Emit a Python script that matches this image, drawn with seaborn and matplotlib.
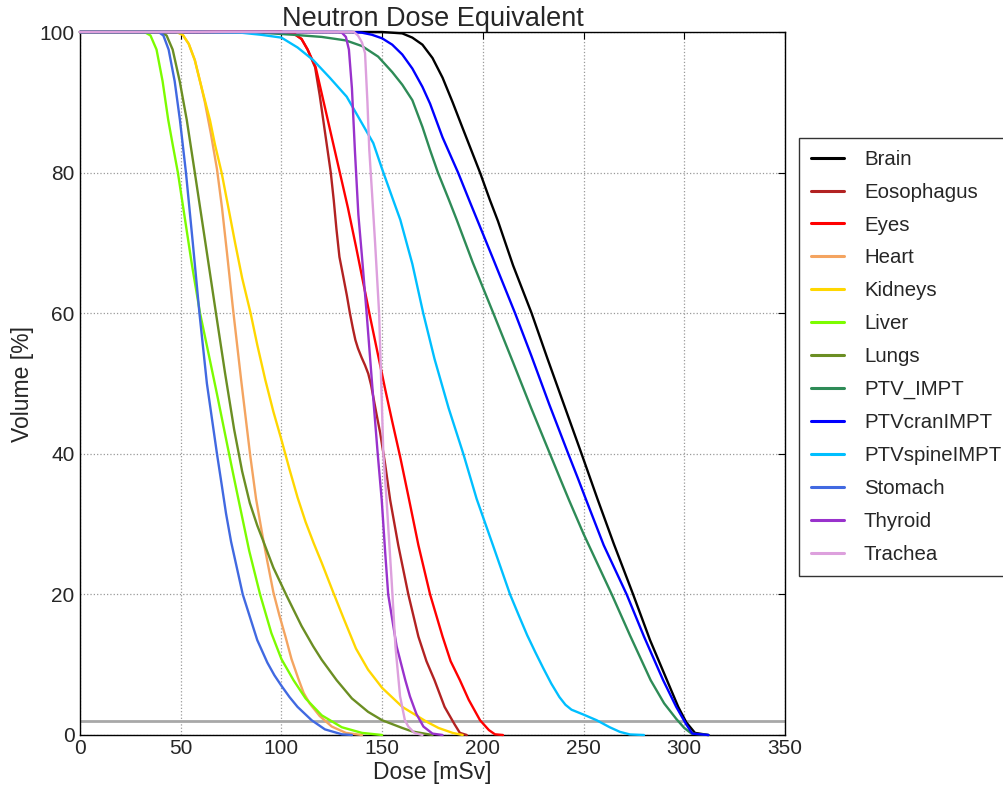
import numpy as np
import pandas as pd
import matplotlib
matplotlib.use("Agg")
import matplotlib.pyplot as plt
import seaborn as sns

# ---------------- data ----------------
structures = ["Brain", "Eosophagus", "Eyes", "Heart", "Kidneys", "Liver", "Lungs",
              "PTV_IMPT", "PTVcranIMPT", "PTVspineIMPT", "Stomach", "Thyroid", "Trachea"]

colors = ["black", "firebrick", "red", "sandybrown", "gold", "lawngreen", "olivedrab",
          "seagreen", "blue", "deepskyblue", "royalblue", "darkorchid", "plum"]

brain_x = [0, 150, 160, 165, 170, 175, 180, 185, 190, 198.6, 203.5, 207.5, 215, 224.2, 232, 240, 249,
           257, 265, 274.6, 283, 291.4, 297, 301, 305.3, 312]
brain_y = [100, 100, 99.8, 99.2, 98.2, 96.3, 93.5, 90, 86.3, 80, 76.1, 73.1, 66.8, 60, 53.6, 47.2, 40,
           33.5, 27.2, 20, 13.5, 7.8, 4, 1.8, 0.3, 0]

eso_x = [0, 100, 106, 110, 113, 116.7, 119, 121, 123, 124.5, 126, 127.3, 128.8, 130.5, 132.5, 134,
         135.5, 136.7, 138, 139.8, 141.5, 143.1, 144.5, 145.6, 147.3, 149, 151.5, 154, 158, 163,
         168, 172, 176, 181, 186, 188.6, 192]
eso_y = [100, 100, 99.8, 99, 97.5, 95, 91, 87, 83, 80, 76, 72, 68, 65.5, 62.5, 60,
         57.8, 56.2, 55, 53.7, 52.6, 51.4, 49.8, 48.1, 45.5, 43, 38.5, 33.4, 27, 20,
         14, 10.5, 7.8, 4, 1.5, 0.3, 0]

eyes_x = [0, 100, 106, 110, 113, 117, 121, 125, 129, 133, 137, 140.5, 144, 148, 151.5, 155, 159,
          163, 168, 173.8, 180, 184, 188.6, 193, 198.6, 203, 206, 210]
eyes_y = [100, 100, 99.8, 99, 97.5, 95, 90, 85, 80, 75, 69.5, 64.5, 59.5, 54, 49.2, 44.6, 39.5,
          34, 27, 20, 14, 10.5, 7.8, 5, 2.1, 0.7, 0.1, 0]

heart_x = [0, 48, 51, 54, 57, 60, 62, 65, 68, 70.5, 73, 76, 80, 84.4, 87.4, 90.7, 93, 96, 99, 102,
           105, 108.4, 111, 114, 119, 125, 132, 140]
heart_y = [100, 100, 99.6, 98.3, 96, 92.5, 90, 85.5, 80.5, 75, 68.5, 60.5, 50.5, 40, 33.6, 28.2, 24.7,
           20.3, 17, 14, 10.8, 8, 6, 4.5, 2.7, 1.2, 0.3, 0]

kidney_x = [0, 48, 51, 54, 57, 60, 64.5, 67, 70.3, 74, 77, 80.5, 84.7, 88, 92, 96, 100, 104, 108,
            112, 116, 120, 125.7, 131, 137, 143, 150, 160, 172, 178, 185, 190]
kidney_y = [100, 100, 99.6, 98.3, 96, 92.5, 87.5, 84, 80, 74.5, 70, 65, 60, 55.5, 50.5, 46, 42, 37.8,
            33.8, 30.3, 27.3, 24.5, 20.3, 16.5, 12.3, 9.3, 6.7, 4, 1.9, 1, 0.3, 0]

liver_x = [0, 32, 35, 38, 41, 43.8, 46, 48.6, 52, 55.5, 59.6, 64, 68, 74, 76.5, 78.6, 84, 89.4,
           95, 100, 106, 112, 120, 130, 140, 150]
liver_y = [100, 100, 99.5, 97.5, 93, 87.5, 84, 80, 73.6, 67, 60, 54, 48.5, 40, 36.5, 33.6, 26.2, 20,
           14.5, 10.8, 7.8, 5.2, 2.8, 1.1, 0.3, 0]

lungs_x = [0, 40, 43, 46, 49.5, 53, 57, 62, 67.5, 72, 76.5, 80.5, 84.3, 88, 90.7, 96, 102.6, 110,
           115.8, 120, 127.4, 135, 143, 150, 160, 165, 175]
lungs_y = [100, 100, 99.5, 97.5, 93, 87.5, 80, 70.5, 60, 51.5, 43.5, 37.5, 33, 29.8, 27.8, 23.8, 19.8,
           15.5, 12.6, 10.7, 7.8, 5.2, 3.3, 2.1, 1, 0.5, 0]

impt_x = [0, 60, 90, 106, 120, 132, 140, 148, 155, 160, 165, 170, 173.8, 177.7, 182.9, 187, 195,
          205.2, 215, 224, 233.3, 238.6, 242.8, 250, 257, 264, 273, 283.3, 290, 296, 300, 303.6, 312]
impt_y = [100, 100, 99.9, 99.6, 99.3, 98.8, 98, 96.5, 94.3, 92.5, 90.3, 86.5, 83.2, 80, 76.3, 73.3, 67.2,
          60, 53, 46.5, 40, 36.3, 33.4, 28.6, 24.3, 20, 14.2, 7.8, 4.5, 2.3, 1.0, 0.2, 0]

cran_x = [0, 135, 140, 145, 150, 155, 160, 165, 170, 173.8, 180, 187.7, 193.6, 198.6, 205, 216, 224,
          233, 242.4, 247.2, 251.2, 260, 271.4, 280, 289.5, 296, 301, 304, 312]
cran_y = [100, 100, 99.9, 99.6, 99.1, 98.2, 96.8, 94.8, 92.2, 89.8, 85, 80, 75.8, 72.3, 67.8, 60, 54,
          47, 40, 36.5, 33.5, 27, 20, 14, 7.8, 4, 1.5, 0.2, 0]

spine_x = [0, 60, 80, 90, 100, 108, 115.8, 124, 132.4, 140, 145.6, 150, 155.6, 159, 165, 170.4, 176,
           183, 190.3, 196.9, 205, 213.5, 218, 222, 226, 230, 234, 238, 241, 244, 250, 256.5, 263,
           268, 273, 280]
spine_y = [100, 100, 99.9, 99.6, 99.2, 97.8, 96, 93.5, 90.8, 87, 84.2, 80.5, 76, 73.3, 67, 60, 53.5,
           46.5, 40, 33.6, 27, 20, 16.9, 14.2, 11.8, 9.5, 7.3, 5.4, 4.3, 3.6, 2.9, 2.1, 1.1,
           0.45, 0.08, 0]

stomach_x = [0, 39, 41.4, 44, 47, 49.6, 52.6, 56, 59.3, 63, 68, 70.4, 72.5, 75, 80.8, 88, 93, 96.5,
             100, 104, 108, 115, 121.6, 130, 135]
stomach_y = [100, 100, 99.5, 97.5, 93, 87.5, 80, 70, 60, 50, 40, 35.5, 31.5, 27.5, 20, 13.5, 10.3, 8.5,
             7.0, 5.4, 4.0, 2.1, 0.8, 0.1, 0]

thyroid_x = [0, 128, 130, 132, 133.5, 135, 136.5, 138.2, 140, 142.3, 145, 147.8, 149.8, 151.5, 153,
             157.2, 161.5, 163.8, 167, 170.5, 175, 180]
thyroid_y = [100, 100, 99.9, 99.3, 97.5, 92, 83, 74, 68, 60, 50, 40, 33.4, 26, 20,
             12.6, 7.8, 5.5, 3, 1.2, 0.2, 0]

trachea_x = [0, 136, 138, 140, 141.5, 142.7, 143.6, 145, 146.5, 148.5, 150.6, 152.2, 154.7, 156.6,
             158.9, 161.3, 163, 166, 170]
trachea_y = [100, 100, 99.5, 98.5, 97, 90, 83.3, 77, 70, 60, 40, 33.4, 22, 12.6,
             5.5, 2.1, 1.2, 0.3, 0]

series_x = [brain_x, eso_x, eyes_x, heart_x, kidney_x, liver_x, lungs_x,
            impt_x, cran_x, spine_x, stomach_x, thyroid_x, trachea_x]
series_y = [brain_y, eso_y, eyes_y, heart_y, kidney_y, liver_y, lungs_y,
            impt_y, cran_y, spine_y, stomach_y, thyroid_y, trachea_y]

ref_level = 2.0
x_ticks = [0, 50, 100, 150, 200, 250, 300, 350]
y_ticks = [0, 20, 40, 60, 80, 100]

# ---------------- build long table ----------------
rows = []
for name, xs, ys in zip(structures, series_x, series_y):
    for xv, yv in zip(xs, ys):
        rows.append({"Structure": name, "Dose": xv, "Volume": yv})
df = pd.DataFrame(rows)

# ---------------- style ----------------
sns.set_style("white")
plt.rcParams["font.family"] = ["Liberation Sans", "DejaVu Sans"]
plt.rcParams["xtick.direction"] = "in"
plt.rcParams["ytick.direction"] = "in"

fig = plt.figure(figsize=(10.04, 7.89), dpi=100)
ax = fig.add_axes([80 / 1004, 1 - 735 / 789, 705 / 1004, 703 / 789])

palette = dict(zip(structures, colors))
sns.lineplot(data=df, x="Dose", y="Volume", hue="Structure", hue_order=structures,
             palette=palette, sort=False, estimator=None, units="Structure",
             linewidth=1.7, ax=ax)
for ln in ax.lines:
    ln.set_clip_on(False)
    ln.set_zorder(3)
    ln.set_solid_joinstyle("round")

ax.axhline(ref_level, color="#a8a8a8", linewidth=2, zorder=2)

ax.set_xlim(0, 350)
ax.set_ylim(0, 100)
ax.set_xticks(x_ticks)
ax.set_yticks(y_ticks)
ax.tick_params(axis="both", which="major", labelsize=15, length=5, width=0.8,
               top=True, right=True, color="black")
ax.tick_params(axis="x", pad=3)
ax.tick_params(axis="y", pad=4)
ax.grid(True, linestyle=":", color="#999999", linewidth=0.9)
for s in ax.spines.values():
    s.set_color("black")
    s.set_linewidth(1.0)
    s.set_visible(True)

ax.set_xlabel("Dose [mSv]", fontsize=16.5, labelpad=2)
ax.set_ylabel("Volume [%]", fontsize=16.5, labelpad=4)
ax.set_title("Neutron Dose Equivalent", fontsize=19.5, pad=4)

handles, labels = ax.get_legend_handles_labels()
if ax.get_legend() is not None:
    ax.get_legend().remove()
leg = fig.legend(handles, labels, loc="upper left",
                 bbox_to_anchor=(799 / 1004, 1 - 138 / 789),
                 bbox_transform=fig.transFigure, borderaxespad=0,
                 fontsize=14.7, frameon=True, fancybox=False, shadow=False,
                 handlelength=1.6, handletextpad=1.0, labelspacing=0.68,
                 borderpad=0.58)
leg.get_frame().set_edgecolor("black")
leg.get_frame().set_linewidth(1.0)
for h in leg.get_lines():
    h.set_linewidth(2.2)

fig.savefig("out.png", dpi=100)
